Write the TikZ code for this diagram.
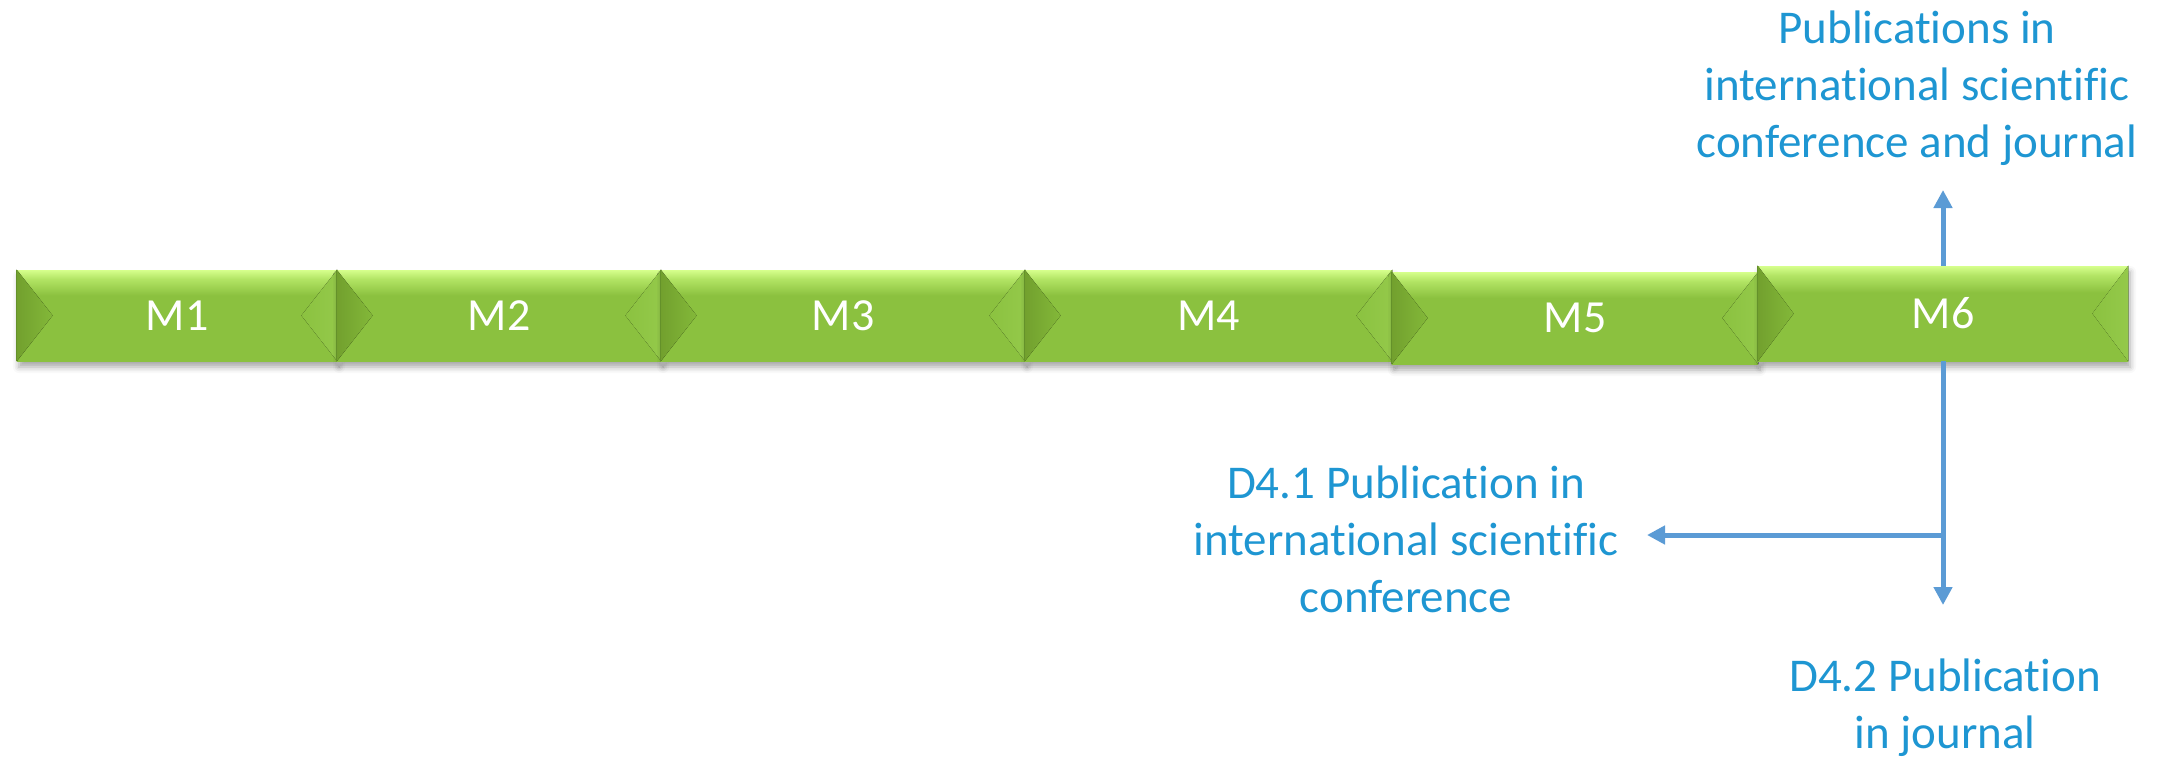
\documentclass[tikz,border=0pt]{standalone}
\usepackage{fontspec}
\setmainfont{Carlito}[Ligatures=NoCommon]
\usetikzlibrary{arrows.meta,shadows.blur,calc}
\definecolor{txtblue}{RGB}{30,150,210}
\definecolor{arrblue}{RGB}{91,155,213}
\definecolor{gface}{RGB}{139,193,63}
\definecolor{gtop}{RGB}{214,255,140}
\definecolor{gtoptwo}{RGB}{178,228,100}
\definecolor{gdark}{RGB}{100,145,42}
\definecolor{gleftA}{RGB}{114,160,46}
\definecolor{gleftB}{RGB}{131,184,57}
\definecolor{grightA}{RGB}{139,194,64}
\definecolor{grightB}{RGB}{148,201,74}
\pgfdeclareverticalshading{bevelgreen}{100bp}{color(0bp)=(gface); color(25bp)=(gface); color(61bp)=(gface); color(70bp)=(gtoptwo); color(75bp)=(gtop); color(100bp)=(gtop)}
\newcommand\bevbox[6]{%
  \node[mbox, minimum width={(#3-#2)*0.5pt}, minimum height={(#5-#4)*0.5pt}] (#1) at ({(#2+#3)/2},{(#4+#5)/2}) {};
  \fill[left color=gleftA, right color=gleftB] (#1.north west) -- ($(#1.west)+(18pt,0pt)$) -- (#1.south west) -- cycle;
  \fill[left color=grightA, right color=grightB] (#1.north east) -- ($(#1.east)+(-18pt,0pt)$) -- (#1.south east) -- cycle;
  \draw[gdark, line width=0.8pt] (#1.north west) -- (#1.south west);
  \node[mtext] at (#1.center) {#6};
}
\begin{document}
\begin{tikzpicture}[x=0.5pt,y=-0.5pt,
  mbox/.style={rectangle, inner sep=0pt, shading=bevelgreen,
    blur shadow={shadow xshift=1pt, shadow yshift=-3pt, shadow blur radius=3pt, shadow opacity=35}},
  mtext/.style={text=white, inner sep=0pt, font=\fontsize{23}{28}\selectfont},
  lbl/.style={text=txtblue, align=center, inner sep=0pt, anchor=base, font=\fontsize{23.5}{28.5}\selectfont},
  conn/.style={draw=arrblue, line width=2.5pt, -{Triangle[length=9pt,width=9pt]}}
]
\useasboundingbox (0,0) rectangle (2167,757);
\bevbox{m1}{17}{337}{270}{361}{M1}
\bevbox{m2}{337}{661}{270}{361}{M2}
\bevbox{m3}{661}{1025}{270}{361}{M3}
\bevbox{m4}{1025}{1392}{270}{361}{M4}
\bevbox{m5}{1392}{1758}{272}{364}{M5}
\bevbox{m6}{1758}{2128}{266}{361}{M6}

\node[lbl] (pub) at (1917,157) {Publications in\\international scientific\\conference and journal};
\node[lbl] (d41) at (1406,612) {D4.1 Publication in\\international scientific\\conference};
\node[lbl] (d42) at (1945,748) {D4.2 Publication\\in journal};

\coordinate (uptip) at (1943,190);
\coordinate (dntip) at (1943,605);
\coordinate (junc) at (1943,535);
\coordinate (lftip) at (1647,535);
\draw[conn] (m6.north) -- (uptip);
\draw[conn] (m6.south) -- (dntip);
\draw[conn] (junc) -- (lftip);
\end{tikzpicture}
\end{document}
